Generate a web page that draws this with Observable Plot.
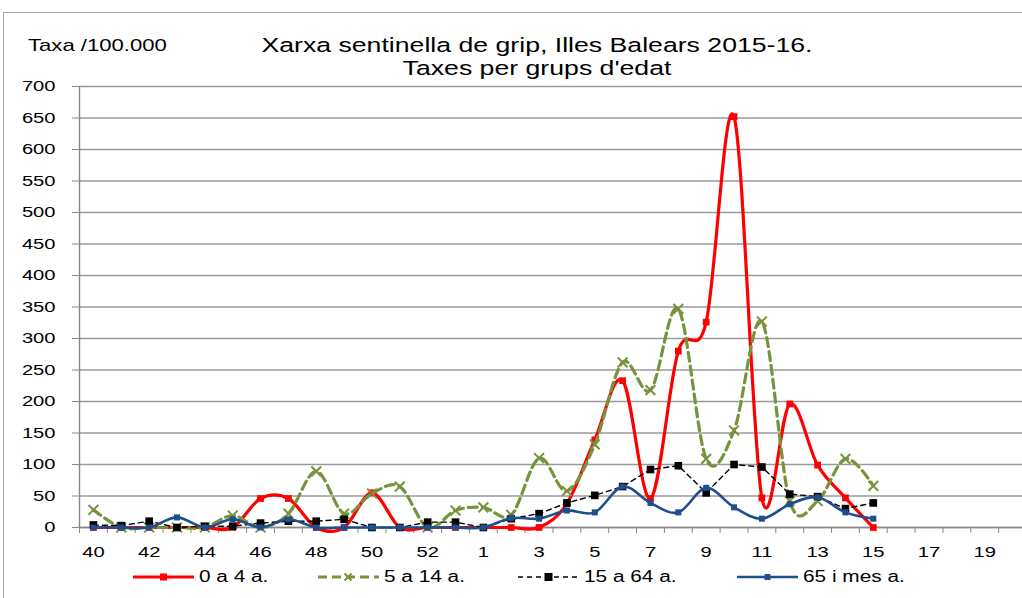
<!DOCTYPE html>
<html>
<head>
<meta charset="utf-8">
<script src="https://cdn.jsdelivr.net/npm/d3@7"></script>
<script src="https://cdn.jsdelivr.net/npm/@observablehq/plot@0.6"></script>
<style>
  body { margin: 0; background: #fff; }
  #wrap { position: relative; width: 1022px; height: 598px; overflow: hidden; background: #fff;
          font-family: "Liberation Sans", Arial, sans-serif; color: #000; }
  #frame { position: absolute; left: 3px; top: 12px; width: 1060px; height: 620px; border: 1.5px solid #a6a6a6; box-sizing: border-box; }
  #ylab { position: absolute; left: 28px; top: 36px; font-size: 17px; line-height: 20px; transform: scaleX(1.3); transform-origin: left center; white-space: nowrap; }
  #title { position: absolute; left: 0; width: 1074px; top: 33px; font-size: 20.5px; line-height: 23px; text-align: center; transform: scaleX(1.3); transform-origin: center; white-space: nowrap; }
  #chart { position: absolute; left: 0; top: 76px; }
  .leg { position: absolute; top: 566px; height: 22px; display: flex; align-items: center; }
  .leg svg { display: block; }
  .leg span { font-size: 16px; transform: scaleX(1.3); transform-origin: left center; white-space: nowrap; margin-left: 5px; }
</style>
</head>
<body>
<div id="wrap">
  <div id="frame"></div>
  <div id="ylab">Taxa /100.000</div>
  <div id="title">Xarxa sentinella de grip, Illes Balears 2015-16.<br>Taxes per grups d'edat</div>
  <div id="chart"></div>
  <div id="legend"></div>
</div>
<script>
// Epidemiological weeks (2015 has week 53)
const weeks = [40,41,42,43,44,45,46,47,48,49,50,51,52,53,1,2,3,4,5,6,7,8,9,10,11,12,13,14,15,16,17,18,19,20];
const yTicks = [0,50,100,150,200,250,300,350,400,450,500,550,600,650,700];

// Rates per 100,000, weeks 40 (2015) .. 15 (2016)
const age0_4   = [0,0,0,0,0,0,46,46,0,0,55,0,0,0, 0,0,0,38,139,233,46,280,326,652,47,196,99,47,0];
const age5_14  = [28,0,0,0,0,19,0,22,89,22,54,65,0,27, 32,20,110,58,132,262,218,347,109,154,327,42,42,109,66];
const age15_64 = [4,3,10,0,2,2,7,10,10,13,0,0,8.5,8.5, 0,14,22,39,51,65,92,98,55,100,96,53,49,30,39];
const age65    = [0,0,0,16,0,13,0,13,0,0,0,0,0,0, 0,15,14,27,24,65,39,24,63,32,14,37,48,24,14];

const seriesNames = ["0 a 4 a.", "5 a 14 a.", "15 a 64 a.", "65 i mes a."];
const colors = ["#ff0000", "#77933c", "#000000", "#1f4e8c"];

const toRows = (arr) => arr.map((v, i) => ({i, v}));
const r0 = toRows(age0_4), r1 = toRows(age5_14), r2 = toRows(age15_64), r3 = toRows(age65);

const boundaries = d3.range(weeks.length + 1).map(k => k - 0.5);
const labelIdx = d3.range(0, weeks.length, 2);

const plot = Plot.plot({
  width: 1022,
  height: 491,
  marginTop: 10,
  marginBottom: 40,
  marginLeft: 79,
  marginRight: -4,
  style: {fontFamily: "'Liberation Sans', Arial, sans-serif", fontSize: "15.5px", color: "#000", background: "transparent", overflow: "visible"},
  x: {type: "linear", domain: [-0.5, weeks.length - 0.5]},
  y: {domain: [0, 700]},
  marks: [
    Plot.gridY(yTicks, {stroke: "#9a9a9a", strokeOpacity: 1, strokeWidth: 1.4}),
    Plot.axisY({ticks: yTicks, tickSize: 7, tickPadding: 17, label: null, stroke: "#888", fontSize: 15.5}),
    Plot.axisX({ticks: boundaries, tickSize: 6, tickFormat: () => "", label: null, stroke: "#888"}),
    Plot.axisX({ticks: labelIdx, tickSize: 0, tickPadding: 18, tickFormat: i => String(weeks[i]), label: null, fontSize: 15.5}),
    Plot.ruleX([-0.5], {stroke: "#888", strokeWidth: 1.4}),
    Plot.ruleY([0], {stroke: "#888", strokeWidth: 1.4}),
    // 0 a 4
    Plot.line(r0, {x: "i", y: "v", stroke: colors[0], strokeWidth: 3.2, curve: "cardinal"}),
    Plot.dot(r0, {x: "i", y: "v", symbol: "square", r: 3.8, fill: colors[0], stroke: "none"}),
    // 5 a 14
    Plot.line(r1, {x: "i", y: "v", stroke: colors[1], strokeWidth: 3.2, strokeDasharray: "9,5", curve: "cardinal"}),
    Plot.dot(r1, {x: "i", y: "v", symbol: "times", r: 4.5, stroke: colors[1], strokeWidth: 2}),
    // 15 a 64
    Plot.line(r2, {x: "i", y: "v", stroke: colors[2], strokeWidth: 1.4, strokeDasharray: "5,4"}),
    Plot.dot(r2, {x: "i", y: "v", symbol: "square", r: 4.3, fill: colors[2], stroke: "none"}),
    // 65 i mes
    Plot.line(r3, {x: "i", y: "v", stroke: colors[3], strokeWidth: 2.6, curve: "cardinal"}),
    Plot.dot(r3, {x: "i", y: "v", symbol: "square", r: 3.4, fill: colors[3], stroke: "none"})
  ]
});

document.getElementById("chart").appendChild(plot);

// Stretch tick label text horizontally like the original rendering
for (const t of plot.querySelectorAll("text")) {
  const w = t.getComputedTextLength();
  if (w > 0) {
    t.setAttribute("textLength", (w * 1.3).toFixed(2));
    t.setAttribute("lengthAdjust", "spacingAndGlyphs");
  }
}

// Legend
const legendLeft = [133, 318, 518, 737];
const legend = document.getElementById("legend");
seriesNames.forEach((name, k) => {
  const item = document.createElement("div");
  item.className = "leg";
  item.style.left = legendLeft[k] + "px";
  const svgNS = "http://www.w3.org/2000/svg";
  const s = document.createElementNS(svgNS, "svg");
  s.setAttribute("width", 61); s.setAttribute("height", 22);
  const ln = document.createElementNS(svgNS, "line");
  ln.setAttribute("x1", 0); ln.setAttribute("x2", 61); ln.setAttribute("y1", 11); ln.setAttribute("y2", 11);
  ln.setAttribute("stroke", colors[k]);
  ln.setAttribute("stroke-width", [3.2, 3.2, 1.4, 2.6][k]);
  if (k === 1) ln.setAttribute("stroke-dasharray", "9,5");
  if (k === 2) ln.setAttribute("stroke-dasharray", "5,4");
  s.appendChild(ln);
  if (k === 1) {
    const p = document.createElementNS(svgNS, "path");
    p.setAttribute("d", "M26.5,7.5L33.5,14.5M26.5,14.5L33.5,7.5");
    p.setAttribute("stroke", colors[k]); p.setAttribute("stroke-width", 2); p.setAttribute("fill", "none");
    s.appendChild(p);
  } else {
    const sz = [7, 0, 8, 6][k];
    const rc = document.createElementNS(svgNS, "rect");
    rc.setAttribute("x", 30.5 - sz / 2); rc.setAttribute("y", 11 - sz / 2);
    rc.setAttribute("width", sz); rc.setAttribute("height", sz);
    rc.setAttribute("fill", colors[k]);
    s.appendChild(rc);
  }
  item.appendChild(s);
  const sp = document.createElement("span");
  sp.textContent = name;
  item.appendChild(sp);
  legend.appendChild(item);
});
</script>
</body>
</html>
